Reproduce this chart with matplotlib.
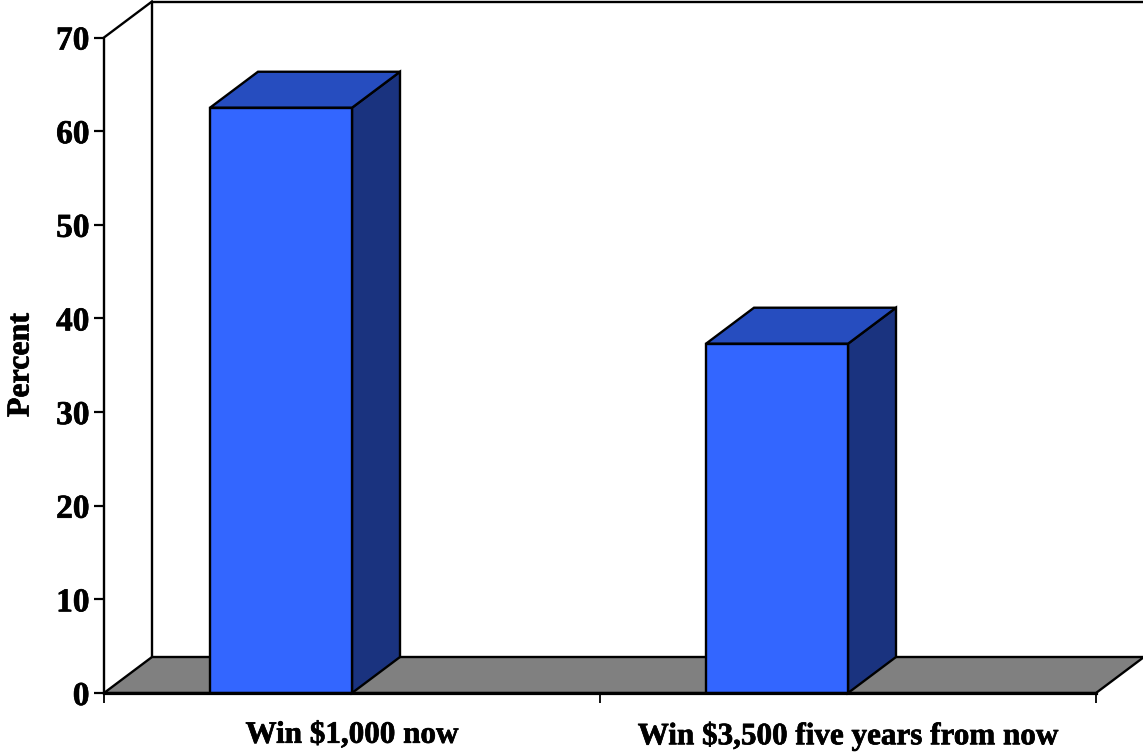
import matplotlib
matplotlib.use("Agg")
import matplotlib.pyplot as plt
import matplotlib.patheffects as pe
from matplotlib.patches import Polygon

categories = ["Win $1,000 now", "Win $3,500 five years from now"]
values = [62.5, 37.3]
y_ticks = [0, 10, 20, 30, 40, 50, 60, 70]

W, H = 1143, 752
plt.rcParams['font.family'] = ['Liberation Serif', 'DejaVu Serif']
fig = plt.figure(figsize=(W / 100, H / 100), dpi=100, facecolor='white')
L, R, B, T = 104, 1096, 693, 37.5
ax = fig.add_axes([L / W, 1 - B / H, (R - L) / W, (B - T) / H])
ax.set_xlim(0, len(categories))
ax.set_ylim(0, 70)
ax.patch.set_visible(False)
for s in ax.spines.values():
    s.set_visible(False)

# depth of the 3D effect, in data units
dx = 48 / ((R - L) / len(categories))
dy = 36 / ((B - T) / 70)
bar_w = 142 / ((R - L) / len(categories))
lw = 1.7
xmax = len(categories)
ymax = y_ticks[-1]


def poly(pts, fc, z, lw_=lw, ec='black'):
    ax.add_patch(Polygon(pts, closed=True, facecolor=fc, edgecolor=ec, linewidth=lw_,
                         joinstyle='miter', clip_on=False, zorder=z))


# back wall
ax.plot([dx, dx, xmax + dx], [dy, ymax + dy, ymax + dy], color='black', lw=lw,
        clip_on=False, zorder=1, solid_joinstyle='miter')
ax.plot([xmax + dx, xmax + dx], [dy, ymax + dy], color='#c0c0c0', lw=0.8, clip_on=False, zorder=1)
# side wall edge
ax.plot([0, 0, dx], [0, ymax, ymax + dy], color='black', lw=lw, clip_on=False, zorder=5,
        solid_joinstyle='miter')
# floor
poly([(0, 0), (xmax, 0), (xmax + dx, dy), (dx, dy)], '#808080', 2)

# bars: the front face ends at the category centre
for i, v in enumerate(values):
    x1 = i + 0.5
    x0 = x1 - bar_w
    poly([(x1, 0), (x1 + dx, dy), (x1 + dx, v + dy), (x1, v)], '#1A337F', 3)
    poly([(x0, v), (x1, v), (x1 + dx, v + dy), (x0 + dx, v + dy)], '#264DBF', 3)
    poly([(x0, 0), (x1, 0), (x1, v), (x0, v)], '#3366FF', 4)

# front base line
ax.plot([0, xmax], [0, 0], color='black', lw=2.3, clip_on=False, zorder=6)

ax.set_yticks(y_ticks)
ax.set_yticklabels([str(t) for t in y_ticks], fontsize=24, fontweight='bold')
ax.tick_params(axis='y', length=7.5, width=1.6, pad=3, color='black')
ax.set_xticks([0, 1, 2])
ax.set_xticklabels([])
ax.tick_params(axis='x', which='major', length=7.5, width=1.3, color='black')
ax.set_xticks([0.5, 1.5], minor=True)
ax.set_xticklabels(categories, minor=True, fontsize=22.4, fontweight='bold')
ax.tick_params(axis='x', which='minor', length=0, pad=20)
pct = fig.text(21 / W, 1 - 365 / H, "Percent", rotation=90, ha='center', va='center',
               fontsize=23, fontweight='bold')

heavier = [pe.withStroke(linewidth=0.5, foreground='black')]
for t in ax.get_yticklabels() + ax.get_xticklabels(minor=True) + [pct]:
    t.set_path_effects(heavier)

fig.savefig("out.png", dpi=100, facecolor='white')
